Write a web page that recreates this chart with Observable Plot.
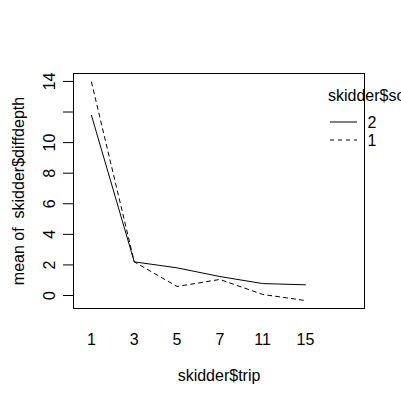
<!DOCTYPE html>
<html><head><meta charset="utf-8">
<script src="https://cdn.jsdelivr.net/npm/d3@7"></script>
<script src="https://cdn.jsdelivr.net/npm/@observablehq/plot@0.6"></script>
<style>body{margin:0;overflow:hidden;background:#fff}</style>
</head><body><div id="chart"></div>
<script>
const trips = ["1", "3", "5", "7", "11", "15"];
const soil2 = [11.78, 2.20, 1.81, 1.24, 0.78, 0.70];
const soil1 = [13.96, 2.20, 0.59, 1.05, 0.07, -0.33];
const yTicks = [0, 2, 4, 6, 8, 10, 12, 14];
const yLabels = [0, 2, 4, 6, 8, 10, 14];
const legendLevels = ["2", "1"];

const rows = [];
trips.forEach((t, i) => {
  rows.push({idx: i + 1, trip: t, soil: "2", v: soil2[i]});
  rows.push({idx: i + 1, trip: t, soil: "1", v: soil1[i]});
});
const font = "'Liberation Sans', Arial, sans-serif";

const legend = (index, scales, values, dims) => {
  const g = d3.create("svg:g").attr("font-family", font).attr("font-size", 16).attr("fill", "black");
  const x0 = dims.width - dims.marginRight - 36;
  const y0 = dims.marginTop + 22;
  g.append("text").attr("x", x0).attr("y", y0).attr("dy", "0.35em").attr("text-anchor", "start").text("skidder$soil");
  legendLevels.forEach((lv, i) => {
    const y = y0 + 27 + i * 18;
    g.append("line").attr("x1", x0 + 2).attr("x2", x0 + 29).attr("y1", y).attr("y2", y)
      .attr("stroke", "black").attr("stroke-width", 1)
      .attr("stroke-dasharray", lv === "1" ? "4,4" : null);
    g.append("text").attr("x", x0 + 44).attr("y", y).attr("dy", "0.35em")
      .attr("text-anchor", "middle").text(lv);
  });
  return g.node();
};

const chart = Plot.plot({
  width: 401, height: 400,
  marginLeft: 73, marginRight: 37, marginTop: 73, marginBottom: 92,
  style: {fontFamily: font, fontSize: "16px", background: "white", color: "black"},
  x: {type: "linear", domain: [0.58, 7.38], axis: null},
  y: {domain: [-0.85, 14.52], axis: null},
  marks: [
    Plot.frame({stroke: "black"}),
    Plot.axisY({ticks: yTicks, tickSize: 10, tickFormat: () => "", label: null, stroke: "black"}),
    Plot.text(yLabels, {y: d => d, text: d => String(d), frameAnchor: "left", textAnchor: "middle", lineAnchor: "middle", dx: -24, rotate: -90, fontSize: 16, fill: "black"}),
    Plot.text(["mean of  skidder$diffdepth"], {text: d => d, frameAnchor: "left", textAnchor: "middle", lineAnchor: "middle", dx: -55, rotate: -90, fontSize: 16, fill: "black"}),
    Plot.text(trips, {x: (d, i) => i + 1, text: d => d, frameAnchor: "bottom", lineAnchor: "middle", dy: 31, fontSize: 16, fill: "black"}),
    Plot.text(["skidder$trip"], {text: d => d, frameAnchor: "bottom", lineAnchor: "middle", dy: 67, fontSize: 16, fill: "black"}),
    Plot.line(rows.filter(d => d.soil === "2"), {x: "idx", y: "v", stroke: "black", strokeWidth: 1}),
    Plot.line(rows.filter(d => d.soil === "1"), {x: "idx", y: "v", stroke: "black", strokeWidth: 1, strokeDasharray: "4,4"}),
    legend
  ]
});
document.getElementById("chart").appendChild(chart);
</script></body></html>
